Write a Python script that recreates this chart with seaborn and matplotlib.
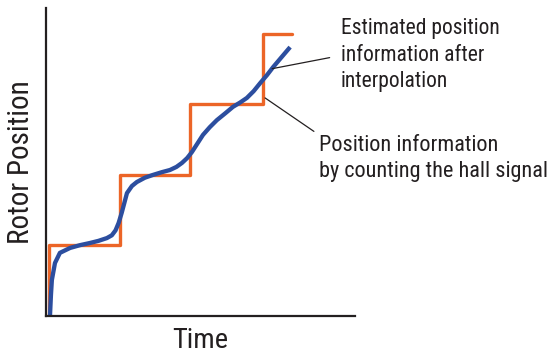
import matplotlib
matplotlib.use("Agg")
import matplotlib.pyplot as plt
import seaborn as sns
import pandas as pd

# Data (arbitrary units)
step_time = [0.10, 0.10, 2.39, 4.66, 7.02, 7.96]
step_pos = [0.00, 2.31, 4.58, 6.88, 9.16, 9.16]

est_time = [0.13, 0.16, 0.19, 0.29, 0.45, 0.78, 1.10, 1.42, 1.70, 1.97, 2.13, 2.25,
            2.35, 2.45, 2.62, 2.78, 2.94, 3.20, 3.46, 3.75, 4.01, 4.22, 4.40, 4.57,
            4.72, 4.90, 5.08, 5.30, 5.53, 5.80, 6.05, 6.28, 6.50, 6.72, 6.93, 7.15,
            7.35, 7.62, 7.90]
est_pos = [0.03, 0.68, 1.17, 1.72, 2.05, 2.21, 2.30, 2.37, 2.44, 2.53, 2.62, 2.78,
           3.02, 3.35, 3.99, 4.22, 4.35, 4.49, 4.58, 4.67, 4.74, 4.84, 4.97, 5.13,
           5.32, 5.60, 5.88, 6.13, 6.36, 6.58, 6.79, 6.93, 7.08, 7.30, 7.56, 7.82,
           8.08, 8.40, 8.73]

labels_est = "Estimated position\ninformation after\ninterpolation"
labels_hall = "Position information\nby counting the hall signal"

sns.set_theme(style="white")
plt.rcParams["font.family"] = ["Roboto Condensed", "Archivo Narrow",
                               "Liberation Sans Narrow", "Liberation Sans", "DejaVu Sans"]

fig = plt.figure(figsize=(5.51, 3.54), dpi=100)
ax = fig.add_axes([46 / 551, 1 - 316 / 354, 309 / 551, 308 / 354])

df_step = pd.DataFrame({"t": step_time, "p": step_pos})
df_est = pd.DataFrame({"t": est_time, "p": est_pos})

sns.lineplot(data=df_step, x="t", y="p", ax=ax, color="#EC6527", lw=2.4,
             drawstyle="steps-post", sort=False, estimator=None)
sns.lineplot(data=df_est, x="t", y="p", ax=ax, color="#2C4E9F", lw=3.1,
             sort=False, estimator=None, solid_capstyle="butt")

ax.set_xlim(0, 10)
ax.set_ylim(0, 10)
ax.set_xticks([])
ax.set_yticks([])
for s in ["top", "right"]:
    ax.spines[s].set_visible(False)
for s in ["left", "bottom"]:
    ax.spines[s].set_color("#231F20")
    ax.spines[s].set_linewidth(1.6)

ax.set_xlabel("Time", fontsize=20.5, color="#231F20", labelpad=8)
ax.set_ylabel("Rotor Position", fontsize=21, color="#231F20", labelpad=8)

# annotations
ax.annotate(labels_est, xy=(7.32, 8.03), xytext=(9.55, 9.66),
            textcoords="data", fontsize=15.5, color="#231F20", va="top", ha="left",
            linespacing=1.34, annotation_clip=False,
            arrowprops=dict(arrowstyle="-", color="#231F20", lw=0.9,
                            shrinkA=6, shrinkB=0, relpos=(0, 0.5)))
ax.annotate(labels_hall, xy=(7.09, 7.08), xytext=(8.85, 5.87),
            textcoords="data", fontsize=16, color="#231F20", va="top", ha="left",
            linespacing=1.32, annotation_clip=False,
            arrowprops=dict(arrowstyle="-", color="#231F20", lw=0.9,
                            shrinkA=2, shrinkB=0, relpos=(0, 1)))

fig.savefig("out.png", dpi=100)
